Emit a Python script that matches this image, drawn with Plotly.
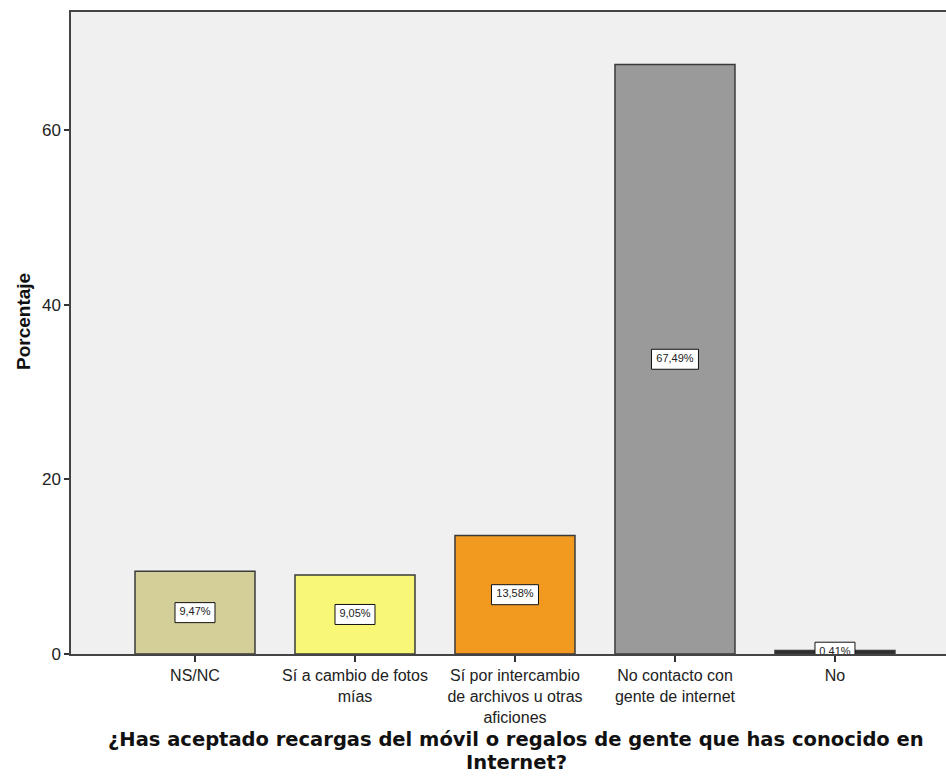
import plotly.graph_objects as go

categories = ["NS/NC", "Sí a cambio de fotos<br>mías", "Sí por intercambio<br>de archivos u otras<br>aficiones",
              "No contacto con<br>gente de internet", "No"]
values = [9.47, 9.05, 13.58, 67.49, 0.41]
value_labels = ["9,47%", "9,05%", "13,58%", "67,49%", "0,41%"]
colors = ["#d4cf99", "#f9f777", "#f29a1f", "#9a9a9a", "#2e2e2e"]
y_ticks = [0, 20, 40, 60]

W, H = 946, 776
ML, MR, MT, MB = 71, 0, 12, 122
plot_w = W - ML - MR
plot_h = H - MT - MB
x_range = [-0.775, 4.694]
y_range = [0, 73.5]
xu = (x_range[1] - x_range[0]) / plot_w  # data units per px
yu = (y_range[1] - y_range[0]) / plot_h

xs = list(range(len(categories)))

fig = go.Figure()
fig.add_trace(go.Bar(
    x=xs, y=values, width=0.75,
    marker=dict(color=colors, line=dict(color="#3a3a3a", width=1.5)),
    hoverinfo="skip", showlegend=False,
))

# label boxes (clipped to plot area like the original)
bx, by = [], []
for i, (v, lab) in enumerate(zip(values, value_labels)):
    half_w = (7 * len(lab) + 5) / 2 * xu
    half_h = 10 * yu
    cy = v / 2
    bx += [i - half_w, i + half_w, i + half_w, i - half_w, i - half_w, None]
    by += [cy - half_h, cy - half_h, cy + half_h, cy + half_h, cy - half_h, None]
fig.add_trace(go.Scatter(
    x=bx, y=by, mode="lines", fill="toself", fillcolor="white",
    line=dict(color="#111111", width=1), hoverinfo="skip", showlegend=False,
))
fig.add_trace(go.Scatter(
    x=xs, y=[v / 2 for v in values], mode="text", text=value_labels,
    textposition="middle center",
    textfont=dict(family="Liberation Sans, Arial, sans-serif", size=11, color="#222222"),
    hoverinfo="skip", showlegend=False, cliponaxis=True,
))

fig.update_layout(
    width=W, height=H,
    margin=dict(l=ML, r=MR, t=MT, b=MB, pad=0),
    paper_bgcolor="white", plot_bgcolor="#f0f0f0",
    font=dict(family="Liberation Sans, Arial, sans-serif", size=16, color="#222222"),
)
fig.update_xaxes(
    range=x_range, tickmode="array", tickvals=xs, ticktext=categories,
    ticks="outside", ticklen=6, tickwidth=1.5, tickcolor="#333333",
    showline=True, linecolor="#444444", linewidth=1.5, mirror=True,
    showgrid=False, zeroline=False,
    tickfont=dict(size=16, color="#222222"),
)
fig.update_yaxes(
    range=y_range, tickmode="array", tickvals=y_ticks,
    ticks="outside", ticklen=5, tickwidth=1.5, tickcolor="#333333",
    showline=True, linecolor="#444444", linewidth=1.5,
    showgrid=False, zeroline=False,
    tickfont=dict(size=17, color="#222222"),
)

title_font = dict(family="DejaVu Sans, Verdana, sans-serif", size=19.5, color="#111111")
fig.add_annotation(text="<b>¿Has aceptado recargas del móvil o regalos de gente que has conocido en</b>",
                   xref="paper", yref="paper", x=(516 - ML) / plot_w, y=-(740 - (MT + plot_h)) / plot_h,
                   xanchor="center", yanchor="middle", showarrow=False, font=title_font)
fig.add_annotation(text="<b>Internet?</b>",
                   xref="paper", yref="paper", x=(516 - ML) / plot_w, y=-(762 - (MT + plot_h)) / plot_h,
                   xanchor="center", yanchor="middle", showarrow=False, font=title_font)
fig.add_annotation(text="<b>Porcentaje</b>", textangle=-90,
                   xref="paper", yref="paper", x=(23 - ML) / plot_w, y=((MT + plot_h) - 322) / plot_h,
                   xanchor="center", yanchor="middle", showarrow=False,
                   font=dict(family="Liberation Sans, Arial, sans-serif", size=19, color="#111111"))

fig.write_html("out.html", config={"displayModeBar": False},
               post_script="document.body.style.margin='0';document.body.style.overflow='hidden';")
